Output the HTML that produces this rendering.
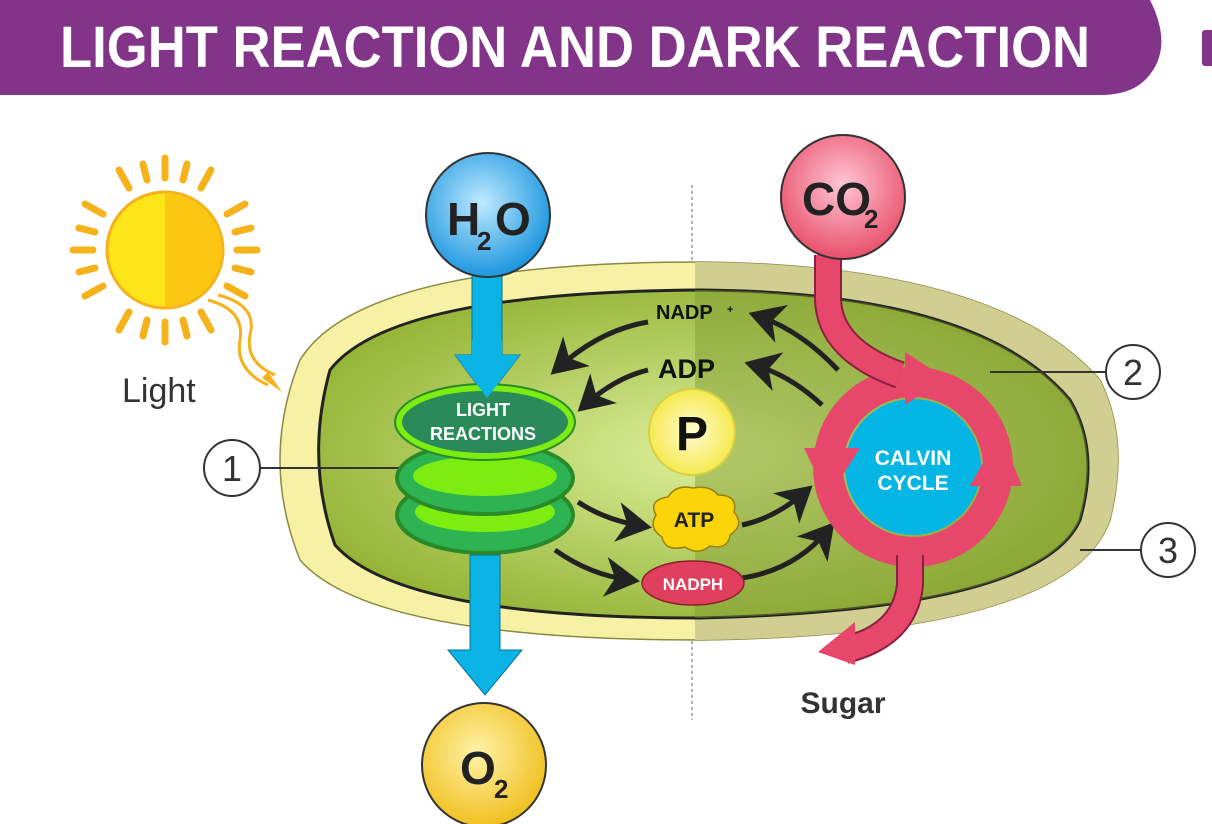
<!DOCTYPE html>
<html><head><meta charset="utf-8"><style>html,body{margin:0;padding:0;background:#fff;width:1212px;height:824px;overflow:hidden}</style></head>
<body>
<svg width="1212" height="824" viewBox="0 0 1212 824" xmlns="http://www.w3.org/2000/svg" font-family="Liberation Sans, sans-serif">
<defs>
<radialGradient id="gin" cx="0.5" cy="0.5" r="0.6"><stop offset="0" stop-color="#dcef9a"/><stop offset="1" stop-color="#8fb030"/></radialGradient>
<radialGradient id="h2o" cx="0.45" cy="0.4" r="0.6"><stop offset="0" stop-color="#bfeaff"/><stop offset="1" stop-color="#1d96e0"/></radialGradient>
<radialGradient id="o2" cx="0.45" cy="0.4" r="0.6"><stop offset="0" stop-color="#fff3a8"/><stop offset="1" stop-color="#f0c020"/></radialGradient>
<radialGradient id="co2" cx="0.5" cy="0.4" r="0.6"><stop offset="0" stop-color="#ffc6d6"/><stop offset="1" stop-color="#e8506a"/></radialGradient>
<radialGradient id="pg" cx="0.5" cy="0.5" r="0.5"><stop offset="0" stop-color="#fffbd0"/><stop offset="1" stop-color="#f5ea50"/></radialGradient>
<clipPath id="rc"><rect x="695" y="0" width="600" height="824"/></clipPath>
<marker id="ah" markerWidth="8" markerHeight="8" refX="5" refY="4" orient="auto" markerUnits="strokeWidth"><path d="M0,0 L7,4 L0,8 L2,4 Z" fill="#222"/></marker>
</defs>
<path d="M0,0 H1150 Q1175,50 1145,80 Q1130,95 1100,95 H0 Z" fill="#823488"/>
<rect x="1202" y="30" width="12" height="36" rx="3" fill="#823488"/>
<text x="60" y="67" font-size="58" font-weight="bold" fill="#fff" textLength="1030" lengthAdjust="spacingAndGlyphs">LIGHT REACTION AND DARK REACTION</text>
<line x1="692" y1="185" x2="692" y2="720" stroke="#666" stroke-width="1" stroke-dasharray="3,3"/>
<g transform="translate(165,250)">
<g stroke="#f5b21a" stroke-width="7" stroke-linecap="round">
<line x1="0" y1="-72" x2="0" y2="-92"/><line x1="0" y1="72" x2="0" y2="92"/><line x1="-72" y1="0" x2="-92" y2="0"/><line x1="72" y1="0" x2="92" y2="0"/>
<line x1="36" y1="-62" x2="46" y2="-80"/><line x1="-36" y1="-62" x2="-46" y2="-80"/><line x1="36" y1="62" x2="46" y2="80"/><line x1="-36" y1="62" x2="-46" y2="80"/>
<line x1="62" y1="-36" x2="80" y2="-46"/><line x1="-62" y1="-36" x2="-80" y2="-46"/><line x1="62" y1="36" x2="80" y2="46"/><line x1="-62" y1="36" x2="-80" y2="46"/>
<line x1="18" y1="-70" x2="22" y2="-86"/><line x1="-18" y1="-70" x2="-22" y2="-86"/><line x1="70" y1="-18" x2="86" y2="-22"/><line x1="70" y1="18" x2="86" y2="22"/><line x1="-70" y1="-18" x2="-86" y2="-22"/><line x1="-70" y1="18" x2="-86" y2="22"/><line x1="18" y1="70" x2="22" y2="86"/><line x1="-18" y1="70" x2="-22" y2="86"/>
</g>
<circle r="58" fill="#fde51a" stroke="#f5b21a" stroke-width="3"/>
<path d="M0,-57 A57,57 0 0 1 0,57 Z" fill="#fbc712"/>
</g>
<path d="M208,300 Q245,310 240,340 Q235,370 268,385" fill="none" stroke="#f5b21a" stroke-width="3"/>
<path d="M218,295 Q258,305 250,335 Q245,362 275,375" fill="none" stroke="#f5b21a" stroke-width="3"/>
<path d="M262,378 L282,392 L268,372 Z" fill="#f5b21a"/>
<text x="122" y="402" font-size="34" fill="#333">Light</text>
<path d="M300,360 Q360,262 700,262 Q1000,265 1100,380 Q1130,440 1110,520 Q1070,635 700,640 Q370,640 300,560 Q260,460 300,360 Z" fill="#f7f1a6" stroke="#8a8a40" stroke-width="1.5"/>
<path d="M300,360 Q360,262 700,262 Q1000,265 1100,380 Q1130,440 1110,520 Q1070,635 700,640 Q370,640 300,560 Q260,460 300,360 Z" fill="#d1ce92" clip-path="url(#rc)"/>
<path d="M330,370 Q390,292 700,290 Q980,292 1070,400 Q1100,450 1080,520 Q1040,610 700,618 Q400,618 335,545 Q305,460 330,370 Z" fill="url(#gin)" stroke="#222" stroke-width="3"/>
<path d="M330,370 Q390,292 700,290 Q980,292 1070,400 Q1100,450 1080,520 Q1040,610 700,618 Q400,618 335,545 Q305,460 330,370 Z" fill="#7f9a30" opacity="0.45" clip-path="url(#rc)"/>
<line x1="260" y1="468" x2="405" y2="468" stroke="#333" stroke-width="2"/>
<circle cx="232" cy="468" r="28" fill="#fff" stroke="#333" stroke-width="2"/>
<text x="232" y="481" font-size="36" text-anchor="middle" fill="#333">1</text>
<line x1="990" y1="372" x2="1105" y2="372" stroke="#333" stroke-width="2"/>
<circle cx="1133" cy="372" r="27" fill="#fff" stroke="#333" stroke-width="2"/>
<text x="1133" y="385" font-size="36" text-anchor="middle" fill="#333">2</text>
<line x1="1080" y1="550" x2="1141" y2="550" stroke="#333" stroke-width="2"/>
<circle cx="1168" cy="550" r="27" fill="#fff" stroke="#333" stroke-width="2"/>
<text x="1168" y="563" font-size="36" text-anchor="middle" fill="#333">3</text>
<path d="M472,270 H502 V355 H520 L487,398 L455,355 H472 Z" fill="#0bb4e4" stroke="#0a6e9a" stroke-width="1"/>
<path d="M470,555 H500 V650 H522 L485,695 L448,650 H470 Z" fill="#0bb4e4" stroke="#0a6e9a" stroke-width="1"/>
<g>
<ellipse cx="485" cy="515" rx="88" ry="38" fill="#2db352" stroke="#2a8a2a" stroke-width="4"/>
<ellipse cx="485" cy="512" rx="70" ry="20" fill="#7dec10"/>
<ellipse cx="485" cy="478" rx="88" ry="36" fill="#2db352" stroke="#2a8a2a" stroke-width="4"/>
<ellipse cx="485" cy="476" rx="72" ry="20" fill="#7dec10"/>
<ellipse cx="485" cy="422" rx="86" ry="34" fill="#2a8a5a" stroke="#7dec10" stroke-width="6"/>
<ellipse cx="485" cy="422" rx="90" ry="38" fill="none" stroke="#2a8a2a" stroke-width="2"/>
</g>
<path d="M472,340 H502 V355 H520 L487,398 L455,355 H472 Z" fill="#0bb4e4"/>
<text x="483" y="416" font-size="18" font-weight="bold" fill="#fff" text-anchor="middle">LIGHT</text>
<text x="483" y="440" font-size="18" font-weight="bold" fill="#fff" text-anchor="middle">REACTIONS</text>
<circle cx="488" cy="215" r="62" fill="url(#h2o)" stroke="#333" stroke-width="2"/>
<text x="447" y="235" font-size="46" font-weight="bold" fill="#222">H</text><text x="477" y="250" font-size="26" font-weight="bold" fill="#222">2</text><text x="495" y="235" font-size="46" font-weight="bold" fill="#222">O</text>
<circle cx="484" cy="765" r="62" fill="url(#o2)" stroke="#333" stroke-width="2"/>
<text x="460" y="784" font-size="46" font-weight="bold" fill="#222">O</text><text x="494" y="798" font-size="26" font-weight="bold" fill="#222">2</text>
<g fill="none" stroke="#222" stroke-width="5" marker-end="url(#ah)">
<path d="M648,322 Q600,330 558,368"/>
<path d="M648,370 Q615,378 585,405"/>
<path d="M838,370 Q800,330 758,316"/>
<path d="M822,405 Q790,375 754,365"/>
<path d="M578,502 Q605,520 642,526"/>
<path d="M555,550 Q590,575 630,580"/>
<path d="M742,525 Q775,518 805,492"/>
<path d="M742,578 Q795,570 828,530"/>
</g>
<text x="656" y="319" font-size="20" font-weight="bold" fill="#111">NADP</text><text x="727" y="313" font-size="11" font-weight="bold" fill="#111">+</text>
<text x="658" y="378" font-size="27" font-weight="bold" fill="#111">ADP</text>
<circle cx="692" cy="432" r="43" fill="url(#pg)" stroke="#d8d040" stroke-width="2"/>
<text x="692" y="450" font-size="48" font-weight="bold" fill="#111" text-anchor="middle">P</text>
<path d="M693,488 Q710,485 718,495 Q738,495 734,512 Q745,525 730,535 Q728,550 710,546 Q698,556 685,547 Q665,552 662,537 Q648,528 656,515 Q648,500 668,497 Q676,484 693,488 Z" fill="#fbd50a" stroke="#9a8010" stroke-width="1.5"/>
<text x="694" y="527" font-size="21" font-weight="bold" fill="#222" text-anchor="middle">ATP</text>
<ellipse cx="693" cy="583" rx="51" ry="22" fill="#e0405e" stroke="#8a2030" stroke-width="1.5"/>
<text x="693" y="590" font-size="17" font-weight="bold" fill="#fff" text-anchor="middle">NADPH</text>
<!-- Calvin -->
<circle cx="913" cy="467" r="85" fill="none" stroke="#e6476a" stroke-width="30"/>
<circle cx="913" cy="467" r="68" fill="#05b6e4"/>
<path d="M828,255 V300 Q830,350 900,375" fill="none" stroke="#8a2040" stroke-width="28"/>
<path d="M828,255 V300 Q830,350 900,375" fill="none" stroke="#e6476a" stroke-width="24"/>
<path d="M905,352 L945,378 L905,405 Z" fill="#e6476a"/>
<path d="M804,448 L860,448 L828,498 Z" fill="#e6476a"/>
<path d="M970,486 L1022,486 L1000,432 Z" fill="#e6476a"/>
<path d="M910,555 V585 Q905,635 845,650" fill="none" stroke="#8a2040" stroke-width="28"/>
<path d="M910,555 V585 Q905,635 845,650" fill="none" stroke="#e6476a" stroke-width="24"/>
<path d="M855,622 L818,652 L855,665 Z" fill="#e6476a"/>
<circle cx="843" cy="197" r="62" fill="url(#co2)" stroke="#333" stroke-width="2"/>
<text x="802" y="215" font-size="46" font-weight="bold" fill="#222">CO</text><text x="864" y="228" font-size="26" font-weight="bold" fill="#222">2</text>
<text x="913" y="465" font-size="21" font-weight="bold" fill="#fff" text-anchor="middle">CALVIN</text>
<text x="913" y="490" font-size="21" font-weight="bold" fill="#fff" text-anchor="middle">CYCLE</text>
<text x="843" y="713" font-size="30" font-weight="bold" fill="#333" text-anchor="middle">Sugar</text>
</svg>
</body></html>
